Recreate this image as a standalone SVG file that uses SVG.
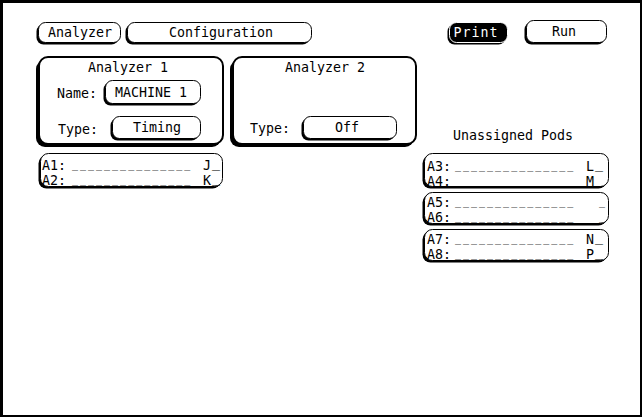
<svg xmlns="http://www.w3.org/2000/svg" width="642" height="417" viewBox="0 0 642 417">
<style>
.sh{fill:#000}
.face{fill:#fff;stroke:#000;stroke-width:1}
.big{fill:#fff;stroke:#000;stroke-width:2}
.inv{fill:#000;stroke:#fff;stroke-width:1}
text{font-family:"DejaVu Sans Mono","Liberation Mono",monospace;font-size:13.3px;fill:#000}
.c{text-anchor:middle}
.w{fill:#fff}
.d{font-size:10px;letter-spacing:2px}
</style>
<rect x="0" y="0" width="642" height="417" fill="#000"/>
<rect x="3" y="3" width="637" height="412" fill="#fff"/>
<g id="btn-analyzer">
<rect class="sh" x="36.5" y="24.5" width="82" height="20" rx="7"/>
<rect class="face" x="38.5" y="22.5" width="82" height="20" rx="7"/>
<text class="c" x="80" y="37">Analyzer</text>
</g>
<g id="btn-configuration">
<rect class="sh" x="125.5" y="24.5" width="184" height="20" rx="7"/>
<rect class="face" x="127.5" y="22.5" width="184" height="20" rx="7"/>
<text class="c" x="221" y="37">Configuration</text>
</g>
<g id="btn-print">
<rect class="sh" x="447.5" y="24.5" width="58" height="20" rx="7"/>
<rect class="inv" x="449.5" y="22.5" width="58" height="20" rx="7"/>
<text class="c w" x="476" y="37" letter-spacing="1">Print</text>
</g>
<g id="btn-run">
<rect class="sh" x="524.5" y="22.5" width="80" height="22" rx="7"/>
<rect class="face" x="526.5" y="20.5" width="80" height="22" rx="7"/>
<text class="c" x="564" y="36">Run</text>
</g>
<g id="analyzer1">
<rect class="sh" x="36" y="60" width="185" height="87" rx="9"/>
<rect class="big" x="39" y="57" width="184" height="87" rx="9"/>
<text class="c" x="128" y="72">Analyzer 1</text>
<text x="57" y="98">Name:</text>
<text x="58" y="134">Type:</text>
</g>
<g id="name-field">
<rect class="sh" x="103.5" y="82.5" width="95" height="23" rx="7"/>
<rect class="face" x="105.5" y="80.5" width="95" height="23" rx="7"/>
<text class="c" x="151" y="97">MACHINE 1</text>
</g>
<g id="type1-field">
<rect class="sh" x="110.5" y="118.5" width="88" height="22" rx="7"/>
<rect class="face" x="112.5" y="116.5" width="88" height="22" rx="7"/>
<text class="c" x="157" y="132">Timing</text>
</g>
<g id="analyzer2">
<rect class="sh" x="230" y="60" width="184" height="87" rx="9"/>
<rect class="big" x="233" y="57" width="183" height="87" rx="9"/>
<text class="c" x="325" y="72">Analyzer 2</text>
<text x="250" y="133">Type:</text>
</g>
<g id="type2-field">
<rect class="sh" x="301.5" y="118.5" width="93" height="22" rx="7"/>
<rect class="face" x="303.5" y="116.5" width="93" height="22" rx="7"/>
<text class="c" x="347" y="132">Off</text>
</g>
<g id="unassigned-label">
<text class="c" x="513" y="140">Unassigned Pods</text>
</g>
<g id="pods-a1-a2">
<rect class="sh" x="38.5" y="155.5" width="182" height="33" rx="8"/>
<rect class="face" x="40.5" y="153.5" width="182" height="33" rx="8"/>
<text x="42" y="170">A1:</text>
<text class="d" x="72" y="168">_______________</text>
<text x="203" y="170">J</text>
<text x="212" y="167">_</text>
<text x="42" y="185">A2:</text>
<text class="d" x="72" y="183">_______________</text>
<text x="203" y="185">K</text>
<text x="212" y="182">_</text>
</g>
<g id="pods-a3-a4">
<rect class="sh" x="422.5" y="155.5" width="184" height="33" rx="8"/>
<rect class="face" x="424.5" y="153.5" width="184" height="33" rx="8"/>
<text x="427" y="171">A3:</text>
<text class="d" x="455" y="169">_______________</text>
<text x="586" y="171">L</text>
<text x="595" y="168">_</text>
<text x="427" y="186">A4:</text>
<text class="d" x="455" y="184">_______________</text>
<text x="586" y="186">M</text>
<text x="595" y="183">_</text>
</g>
<g id="pods-a5-a6">
<rect class="sh" x="422.5" y="194.5" width="184" height="31" rx="8"/>
<rect class="face" x="424.5" y="192.5" width="184" height="31" rx="8"/>
<text x="427" y="207">A5:</text>
<text class="d" x="455" y="205">_______________</text>
<text class="d" x="599" y="205">_</text>
<text x="427" y="222">A6:</text>
<text class="d" x="455" y="220">_______________</text>
<text class="d" x="599" y="220">_</text>
</g>
<g id="pods-a7-a8">
<rect class="sh" x="422.5" y="231.5" width="184" height="31" rx="8"/>
<rect class="face" x="424.5" y="229.5" width="184" height="31" rx="8"/>
<text x="427" y="244">A7:</text>
<text class="d" x="455" y="242">_______________</text>
<text x="586" y="244">N</text>
<text x="595" y="241">_</text>
<text x="427" y="259">A8:</text>
<text class="d" x="455" y="257">_______________</text>
<text x="586" y="259">P</text>
<text x="595" y="256">_</text>
</g>
<g id="connectors"/>
</svg>
